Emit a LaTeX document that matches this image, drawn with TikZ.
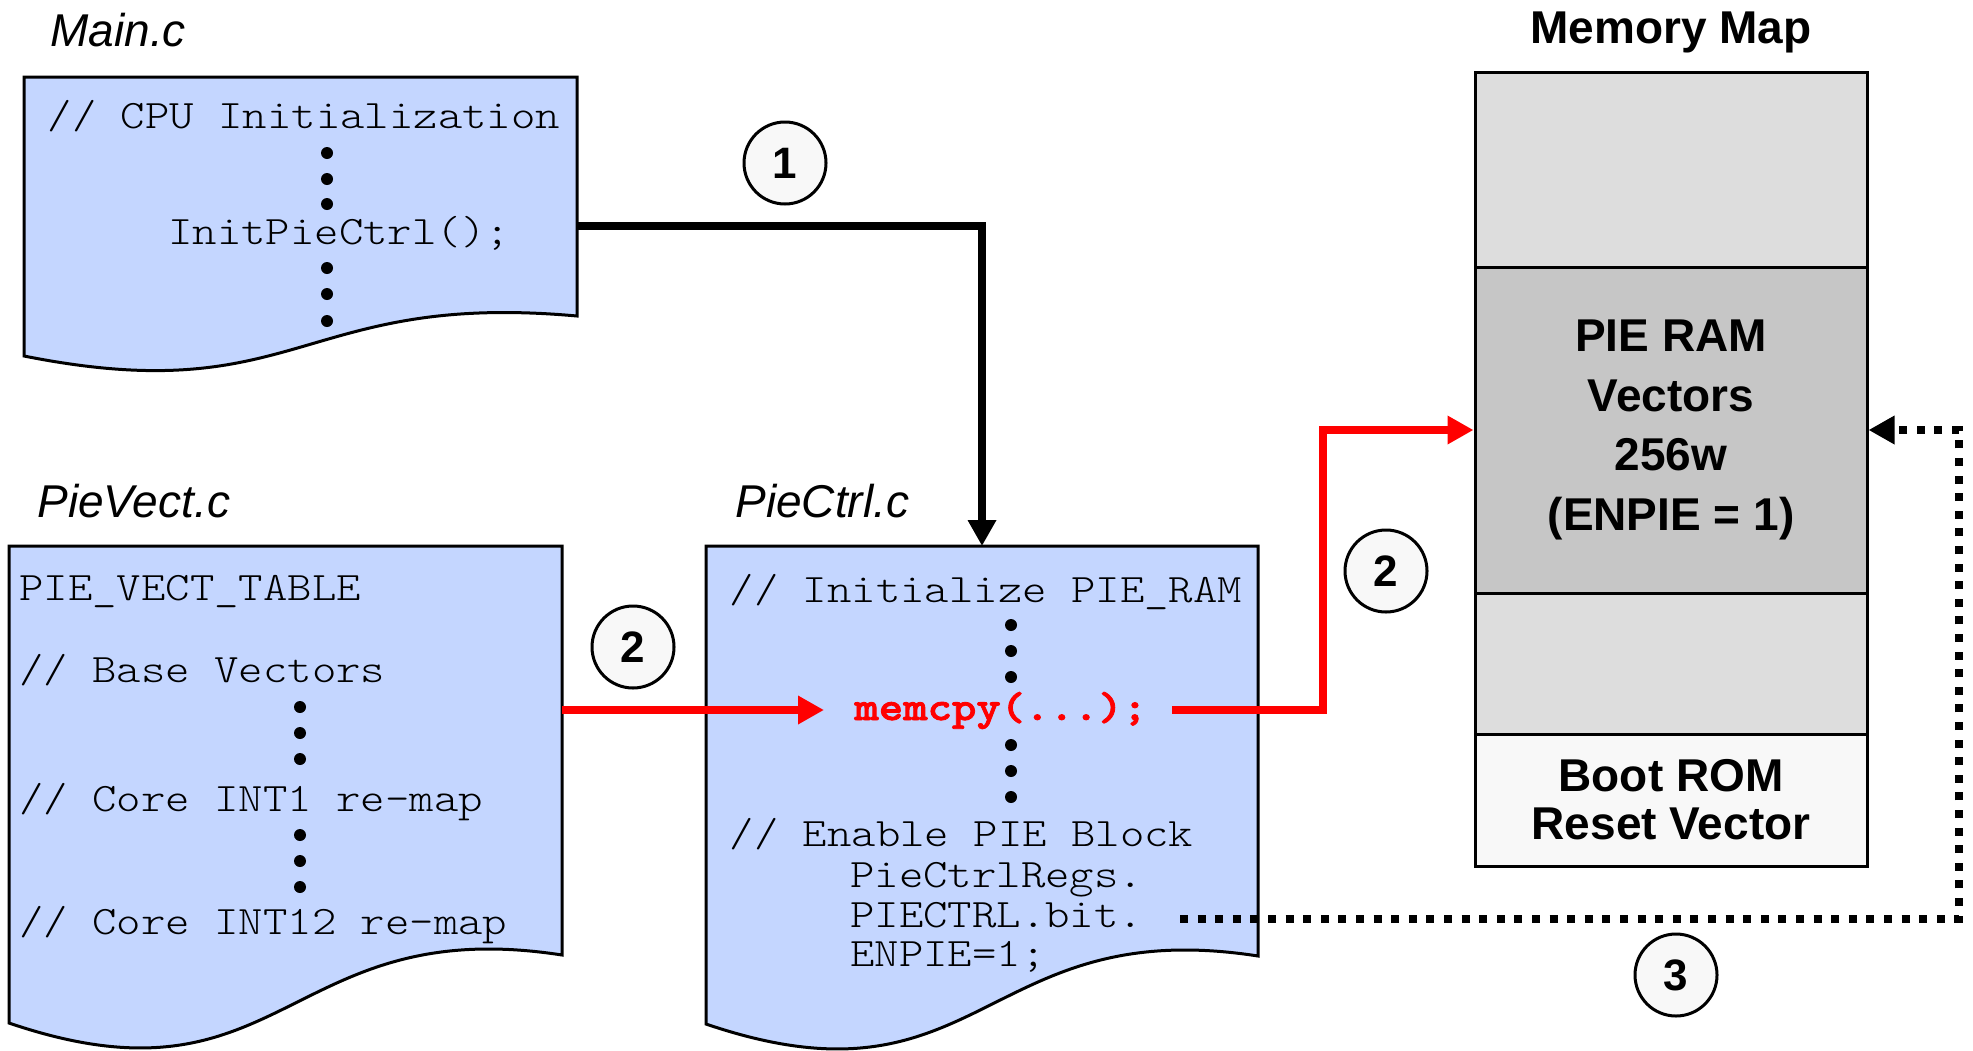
\documentclass[tikz,border=0pt]{standalone}
\usepackage{fontspec}
\setmainfont{Liberation Sans}
\setmonofont{lmmonolt10-regular.otf}[BoldFont=lmmonolt10-bold.otf, FakeStretch=1.15]
\newfontfamily\mcboldfont{lmmonolt10-bold.otf}[FakeBold=2, FakeStretch=1.15]
\usetikzlibrary{arrows.meta}
\definecolor{docblue}{RGB}{196,214,255}
\definecolor{memlight}{RGB}{221,221,221}
\definecolor{memdark}{RGB}{198,198,198}
\definecolor{memwhite}{RGB}{248,248,248}
\definecolor{circfill}{RGB}{248,248,248}
\tikzset{
  docbox/.style={draw=black, fill=docblue, line width=1.5pt},
  code/.style={anchor=base west, inner sep=0pt, text height=12pt, text depth=2.5pt, font=\fontsize{20.2}{24}\selectfont\ttfamily},
  filelabel/.style={anchor=base west, inner sep=0pt, font=\fontsize{23}{27}\selectfont\itshape},
  codedot/.style={fill=black},
  memsec/.style={draw=black, line width=1.5pt, minimum width=196pt, inner sep=0pt, align=center},
  memtext/.style={font=\fontsize{23}{29.75}\selectfont\bfseries},
  stepcircle/.style={circle, draw=black, line width=1.5pt, fill=circfill, minimum size=41pt, inner sep=0pt, font=\fontsize{22}{26}\selectfont\bfseries},
  blackarrow/.style={draw=black, line width=4pt, -{Triangle[length=13pt,width=13.5pt]}},
  redarrow/.style={draw=red, line width=4pt, -{Triangle[length=13pt,width=13.5pt]}},
  dotarrow/.style={draw=black, line width=4.25pt, dash pattern=on 4pt off 4.8pt, -{Triangle[length=13pt,width=13.5pt]}},
}
\begin{document}
\begin{tikzpicture}[x=0.5pt,y=-0.5pt]
\useasboundingbox (0,0) rectangle (1973,1050);

% ---------- document boxes ----------
\draw[docbox] (24,77) -- (577,77) -- (577,316) .. controls (300,291) and (300,411) .. (24,356) -- cycle;
\draw[docbox] (9,546) -- (562,546) -- (562,955) .. controls (285,912) and (285,1117) .. (9,1023) -- cycle;
\draw[docbox] (706,546) -- (1258,546) -- (1258,956) .. controls (982,913) and (982,1118) .. (706,1024) -- cycle;

% ---------- file labels ----------
\node[filelabel] (lmain) at (50,46) {Main.c};
\node[filelabel] (lvect) at (37,517) {PieVect.c};
\node[filelabel] (lctrl) at (735,517) {PieCtrl.c};

% ---------- Main.c code ----------
\node[code] (m1) at (47.4,128) {// CPU Initialization};
\node[code] (m2) at (168,244) {InitPieCtrl();};
\foreach \yy in {153,179,204,268,294,321}
  \fill[codedot] (327,\yy) circle[radius=3pt];

% ---------- PieVect.c code ----------
\node[code] (v1) at (19,600) {PIE\_VECT\_TABLE};
\node[code] (v2) at (19,682.5) {// Base Vectors};
\node[code] (v3) at (19,811) {// Core INT1 re-map};
\node[code] (v4) at (19,934.5) {// Core INT12 re-map};
\foreach \yy in {707,733,759,835,861,887}
  \fill[codedot] (300,\yy) circle[radius=3pt];

% ---------- PieCtrl.c code ----------
\node[code] (c1) at (729.4,602) {// Initialize PIE\_RAM};
\node[code, text=red, font=\fontsize{20.2}{24}\selectfont\mcboldfont] (mc) at (854,720) {memcpy(...);};
\node[code] (c2) at (729.4,846.5) {// Enable PIE Block};
\node[code] (c3) at (850,887) {PieCtrlRegs.};
\node[code] (c4) at (850,927) {PIECTRL.bit.};
\node[code] (c5) at (850,966.5) {ENPIE=1;};
\foreach \yy in {625,651,677,745,771,797}
  \fill[codedot] (1011,\yy) circle[radius=3pt];

% ---------- memory map ----------
\node[anchor=base, inner sep=0pt, font=\fontsize{23}{27}\selectfont\bfseries] (mtitle) at (1671,43) {Memory Map};
\node[memsec, fill=memlight, minimum height=97.5pt] (memtop) at (1671,169.5) {};
\node[memsec, fill=memdark, minimum height=163pt, memtext] (pieram) at (1671,430) {PIE RAM\\Vectors\\256w\\(ENPIE = 1)};
\node[memsec, fill=memlight, minimum height=70.5pt] (memmid) at (1671,663.5) {};
\node[memsec, fill=memwhite, minimum height=66pt, font=\fontsize{23}{24}\selectfont\bfseries] (boot) at (1671,800) {Boot ROM\\Reset Vector};

% ---------- helper coordinates ----------
\coordinate (mainout) at (577,226);
\coordinate (pctop) at (982,546);
\coordinate (pvright) at (562,710);
\coordinate (mcin) at (824,710);
\coordinate (mcout) at (1172,710);
\coordinate (redcol) at (1323,430);
\coordinate (dotstart) at (1180,919);
\coordinate (dotcol) at (1959,430);

% ---------- connectors ----------
\draw[blackarrow] (mainout) -| (pctop);
\draw[redarrow] (pvright) -- (mcin);
\draw[redarrow] (mcout) -| (redcol) |- (pieram.west);
\draw[dotarrow] (dotstart) -| (dotcol) |- (pieram.east);

% ---------- step circles ----------
\node[stepcircle] (n1) at (785,163) {1};
\node[stepcircle] (n2a) at (633,647) {2};
\node[stepcircle] (n2b) at (1386,571) {2};
\node[stepcircle] (n3) at (1676,975) {3};
\end{tikzpicture}
\end{document}
